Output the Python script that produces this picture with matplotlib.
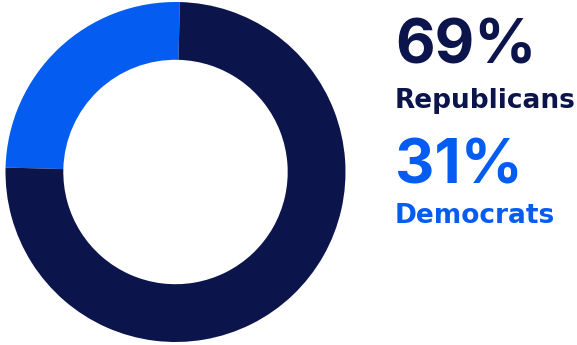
import matplotlib
matplotlib.use("Agg")
import matplotlib.pyplot as plt

# shares as drawn in the ring (the drawn split)
parties = ["Democrats", "Republicans"]
ring_share = [25.0, 75.0]
# numbers printed beside the ring
shown_pct = ["31%", "69%"]
colors = {"Democrats": "#055CF0", "Republicans": "#0B144B"}

W, H = 577, 345
fig = plt.figure(figsize=(W / 100, H / 100), dpi=100)
fig.patch.set_facecolor("white")

cx, cy, r = 175.5, 172, 170
ax = fig.add_axes([(cx - r) / W, (H - cy - r) / H, 2 * r / W, 2 * r / H])
ax.pie(ring_share, colors=[colors[p] for p in parties], startangle=88.5,
       counterclock=True, radius=1, wedgeprops=dict(width=0.34, linewidth=0))
ax.set_xlim(-1, 1); ax.set_ylim(-1, 1)
ax.axis("off")

def put(txt, x, base, size, col, fam):
    fig.text(x / W, 1 - base / H, txt, fontsize=size, fontweight="bold",
             color=col, family=fam, ha="left", va="baseline")

num_fam = ["Inter", "DejaVu Sans"]
lab_fam = ["DejaVu Sans"]
put(shown_pct[1], 395, 63, 44, colors["Republicans"], num_fam)
put(parties[1], 395, 108, 19, colors["Republicans"], lab_fam)
put(shown_pct[0], 395, 183, 44, colors["Democrats"], num_fam)
put(parties[0], 395, 223, 19, colors["Democrats"], lab_fam)

fig.savefig("out.png", dpi=100)
